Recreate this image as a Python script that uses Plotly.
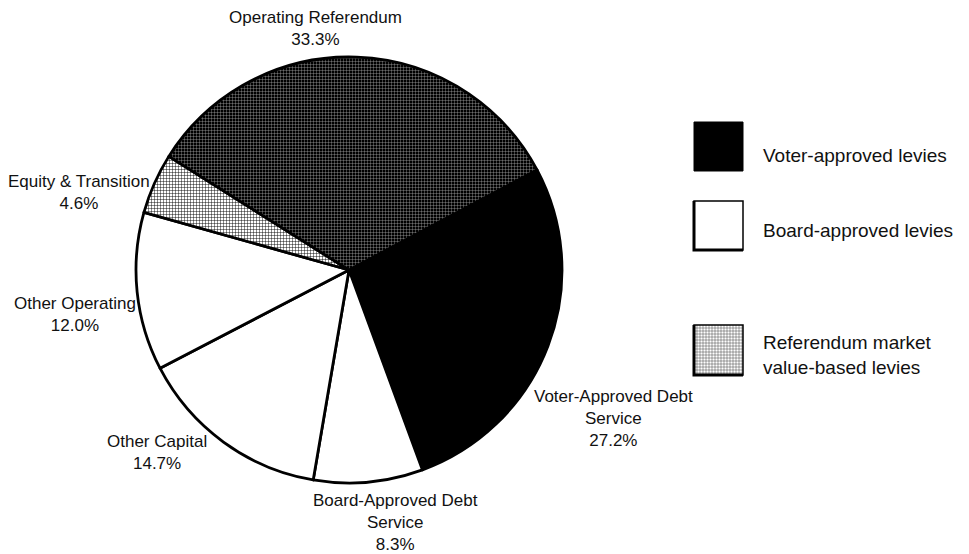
import plotly.graph_objects as go

# Levy shares, listed clockwise from the Voter-Approved Debt Service slice
categories = [
    "Voter-Approved Debt Service",
    "Board-Approved Debt Service",
    "Other Capital",
    "Other Operating",
    "Equity & Transition",
    "Operating Referendum",
]
shares = [27.2, 8.3, 14.7, 12.0, 4.6, 33.3]
wrapped_names = [
    "Voter-Approved Debt<br>Service",
    "Board-Approved Debt<br>Service",
    "Other Capital",
    "Other Operating",
    "Equity & Transition",
    "Operating Referendum",
]
legend_items = [
    "Voter-approved levies",
    "Board-approved levies",
    "Referendum market<br>value-based levies",
]

W, H = 969, 554
LABEL_FONT = "Liberation Sans, Arial, sans-serif"
BODY_FONT = "Liberation Sans, Arial, sans-serif"

# slice fills
base_colors = ["black", "white", "white", "white", "white", "black"]
pat_shapes = ["", "", "", "", "+", "+"]
pat_fg = ["black", "black", "black", "black", "black", "#c8c8c8"]
pat_bg = ["black", "white", "white", "white", "white", "black"]
pat_solid = [0.3, 0.3, 0.3, 0.3, 0.28, 0.2]

cx, cy, r = 349, 270, 213  # pie centre / radius in pixels

fig = go.Figure(
    go.Pie(
        labels=categories,
        values=shares,
        sort=False,
        direction="clockwise",
        rotation=62,
        textinfo="none",
        hoverinfo="label+percent",
        showlegend=False,
        marker=dict(
            colors=base_colors,
            line=dict(color="black", width=2.8),
            pattern=dict(
                shape=pat_shapes,
                fgcolor=pat_fg,
                bgcolor=pat_bg,
                size=3,
                solidity=pat_solid,
            ),
        ),
        domain=dict(
            x=[(cx - r) / W, (cx + r) / W],
            y=[1 - (cy + r) / H, 1 - (cy - r) / H],
        ),
    )
)

# slice labels (text block centres in pixels)
label_pos = [(613, 418), (395, 522), (157, 452), (75, 314), (79, 192), (315, 29)]
for name, v, (px, py) in zip(wrapped_names, shares, label_pos):
    fig.add_annotation(
        x=px / W, y=1 - py / H, xref="paper", yref="paper",
        text=f"{name}<br>{v:.1f}%", showarrow=False,
        xanchor="center", yanchor="middle", align="center",
        font=dict(family=LABEL_FONT, size=17, color="#111"),
    )

# legend swatches
shapes = []
def px_rect(x0, y0, x1, y1, **kw):
    return dict(type="rect", xref="paper", yref="paper",
                x0=x0 / W, x1=x1 / W, y0=1 - y1 / H, y1=1 - y0 / H, **kw)

sw_x0, sw_x1 = 694, 743
sw_rows = [(122, 171), (201, 250), (325, 375)]

shapes.append(px_rect(sw_x0, sw_rows[0][0], sw_x1, sw_rows[0][1],
                      fillcolor="black", line=dict(color="black", width=1)))
shapes.append(px_rect(sw_x0, sw_rows[1][0], sw_x1, sw_rows[1][1],
                      fillcolor="white", line=dict(color="black", width=1.5)))
shapes.append(px_rect(sw_x0, sw_rows[2][0], sw_x1, sw_rows[2][1],
                      fillcolor="white", line=dict(color="black", width=1.5)))

# grid hatching inside the third swatch
gy0, gy1 = sw_rows[2]
path = []
step = 3
x = sw_x0 + step
while x < sw_x1:
    path.append(f"M{x / W},{1 - gy0 / H}L{x / W},{1 - gy1 / H}")
    x += step
y = gy0 + step
while y < gy1:
    path.append(f"M{sw_x0 / W},{1 - y / H}L{sw_x1 / W},{1 - y / H}")
    y += step
shapes.append(dict(type="path", xref="paper", yref="paper", path="".join(path),
                   line=dict(color="rgba(0,0,0,0.7)", width=0.5)))

# heavier left/bottom edges on the outlined swatches
for (t, b) in sw_rows[1:]:
    shapes.append(dict(
        type="path", xref="paper", yref="paper",
        path=f"M{sw_x0 / W},{1 - t / H}L{sw_x0 / W},{1 - b / H}L{sw_x1 / W},{1 - b / H}",
        line=dict(color="black", width=3),
    ))

fig.update_layout(shapes=shapes)

legend_text_y = [155, 231, 355]
for txt, ty in zip(legend_items, legend_text_y):
    fig.add_annotation(
        x=761 / W, y=1 - ty / H, xref="paper", yref="paper",
        text=txt, showarrow=False, xanchor="left", yanchor="middle", align="left",
        font=dict(family=BODY_FONT, size=19, color="#111"),
    )

fig.update_layout(
    width=W, height=H,
    margin=dict(l=0, r=0, t=0, b=0),
    paper_bgcolor="white",
    plot_bgcolor="white",
)

fig.write_html("out.html")
